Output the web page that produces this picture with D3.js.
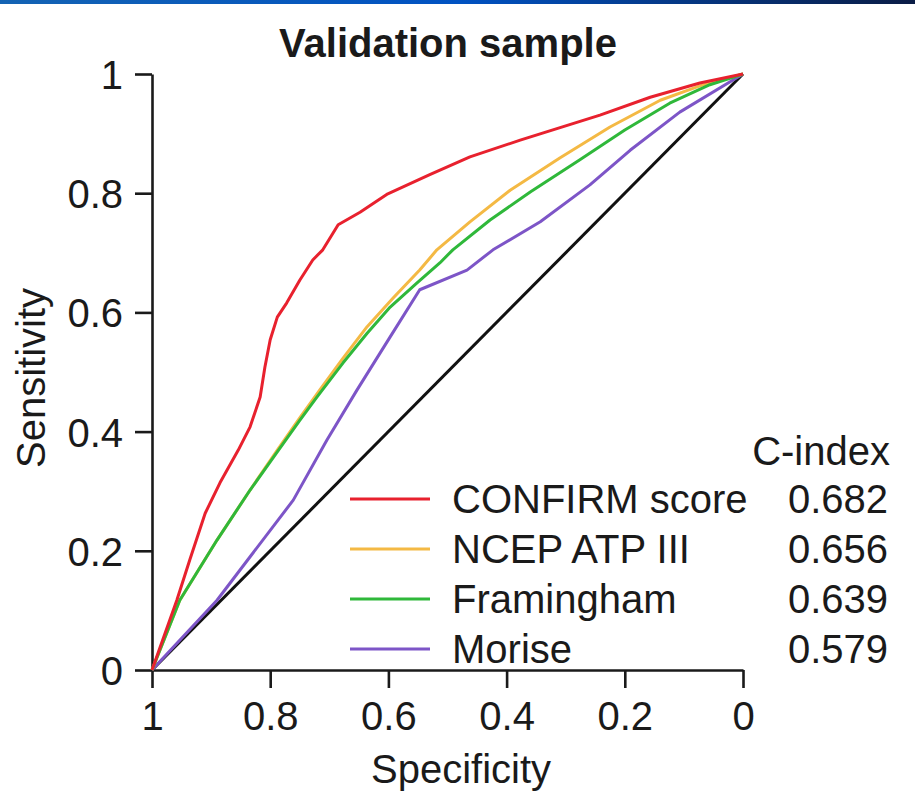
<!DOCTYPE html>
<html>
<head>
<meta charset="utf-8">
<style>
  body { margin: 0; background: #fff; }
  svg text { font-family: "Liberation Sans", Arial, Helvetica, sans-serif; fill: #1a1a1a; }
  .axis path, .axis line { stroke: #1a1a1a; stroke-width: 2.6px; }
  .axis text { font-size: 40px; }
  .curve { fill: none; stroke-width: 3px; stroke-linejoin: round; }
</style>
</head>
<body>
<div class="chart"></div>
<script src="https://d3js.org/d3.v7.min.js"></script>
<script>
// ROC curves: [specificity, sensitivity]
var confirm = [[1,0],[0.958,0.117],[0.936,0.185],[0.910,0.263],[0.885,0.314],[0.854,0.369],
  [0.834,0.408],[0.817,0.458],[0.809,0.508],[0.800,0.554],[0.788,0.592],[0.772,0.616],
  [0.750,0.654],[0.728,0.688],[0.711,0.705],[0.685,0.747],[0.648,0.768],[0.601,0.799],
  [0.530,0.831],[0.462,0.861],[0.377,0.889],[0.242,0.931],[0.157,0.961],[0.073,0.985],[0,1]];
var ncep = [[1,0],[0.953,0.117],[0.890,0.218],[0.834,0.302],[0.788,0.369],[0.750,0.423],
  [0.716,0.470],[0.677,0.523],[0.636,0.576],[0.592,0.624],[0.547,0.671],[0.518,0.705],
  [0.462,0.752],[0.394,0.805],[0.310,0.859],[0.225,0.911],[0.140,0.956],[0.073,0.980],[0,1]];
var framingham = [[1,0],[0.953,0.117],[0.890,0.218],[0.834,0.302],[0.788,0.366],[0.750,0.419],
  [0.721,0.458],[0.677,0.515],[0.636,0.565],[0.597,0.609],[0.552,0.649],[0.513,0.683],
  [0.491,0.705],[0.428,0.755],[0.360,0.802],[0.276,0.856],[0.200,0.906],[0.124,0.951],
  [0.056,0.982],[0,1]];
var morise = [[1,0],[0.890,0.117],[0.834,0.190],[0.761,0.285],[0.704,0.386],[0.653,0.470],
  [0.597,0.559],[0.547,0.638],[0.467,0.671],[0.423,0.705],[0.343,0.752],[0.259,0.814],
  [0.191,0.872],[0.107,0.936],[0,1]];
var reference = [[1,0],[0,1]];

var names = ["CONFIRM score", "NCEP ATP III", "Framingham", "Morise"];
var cIndex = ["0.682", "0.656", "0.639", "0.579"];
var colors = ["#e8212e", "#f4b944", "#2fb83a", "#7d55c7"];
var ticks = [1, 0.8, 0.6, 0.4, 0.2, 0];

var width = 915, height = 806;

var svg = d3.select(".chart").append("svg")
    .attr("width", width)
    .attr("height", height);

// blue strip across the top
var grad = svg.append("defs").append("linearGradient").attr("id", "topbar");
grad.append("stop").attr("offset", "0%").attr("stop-color", "#1463b3");
grad.append("stop").attr("offset", "50%").attr("stop-color", "#0052c2");
grad.append("stop").attr("offset", "100%").attr("stop-color", "#0a1c45");
svg.append("rect").attr("x", 0).attr("y", 0).attr("width", width).attr("height", 4)
    .attr("fill", "url(#topbar)");

var x = d3.scaleLinear().domain([1, 0]).range([152, 743]);
var y = d3.scaleLinear().domain([0, 1]).range([670, 74]);

var fmt = function(d){ return d === 0 || d === 1 ? String(d) : d3.format(".1f")(d); };

svg.append("g")
    .attr("class", "x axis")
    .attr("transform", "translate(0," + y(0) + ")")
    .call(d3.axisBottom(x).tickValues(ticks).tickFormat(fmt).tickSize(18).tickSizeOuter(0).tickPadding(14));

svg.append("g")
    .attr("class", "y axis")
    .attr("transform", "translate(" + x(1) + ",0)")
    .call(d3.axisLeft(y).tickValues(ticks).tickFormat(fmt).tickSize(17).tickSizeOuter(0).tickPadding(12));

svg.selectAll(".axis text").attr("fill", "#1a1a1a");
svg.selectAll(".y.axis text").attr("dy", "0.36em");

var line = d3.line()
    .x(function(d){ return x(d[0]); })
    .y(function(d){ return y(d[1]); });

svg.append("path")
    .attr("class", "curve")
    .attr("d", line(reference))
    .attr("stroke", "#111");

var series = [confirm, ncep, framingham, morise];
// draw Morise first so the others sit on top, Framingham over NCEP
[3, 1, 2, 0].forEach(function(i){
  svg.append("path")
      .attr("class", "curve")
      .attr("d", line(series[i]))
      .attr("stroke", colors[i]);
});

// title and axis labels
svg.append("text")
    .attr("x", 448).attr("y", 57)
    .attr("text-anchor", "middle")
    .style("font-size", "40px").style("font-weight", "bold")
    .text("Validation sample");

svg.append("text")
    .attr("x", 461).attr("y", 783)
    .attr("text-anchor", "middle")
    .style("font-size", "40px")
    .text("Specificity");

svg.append("text")
    .attr("transform", "translate(45,378) rotate(-90)")
    .attr("text-anchor", "middle")
    .style("font-size", "40px")
    .text("Sensitivity");

// legend
var legend = svg.append("g").attr("class", "legend");

legend.append("text")
    .attr("x", 890).attr("y", 465)
    .attr("text-anchor", "end")
    .style("font-size", "40px")
    .text("C-index");

var rows = legend.selectAll(".row")
    .data(names)
  .enter().append("g")
    .attr("class", "row")
    .attr("transform", function(d, i){ return "translate(0," + (499 + i * 50) + ")"; });

rows.append("line")
    .attr("x1", 350).attr("x2", 430)
    .attr("stroke", function(d, i){ return colors[i]; })
    .attr("stroke-width", 3);

rows.append("text")
    .attr("x", 452).attr("dy", "0.35em")
    .style("font-size", "40px")
    .text(function(d){ return d; });

rows.append("text")
    .attr("x", 888).attr("dy", "0.35em")
    .attr("text-anchor", "end")
    .style("font-size", "40px")
    .text(function(d, i){ return cIndex[i]; });
</script>
</body>
</html>
